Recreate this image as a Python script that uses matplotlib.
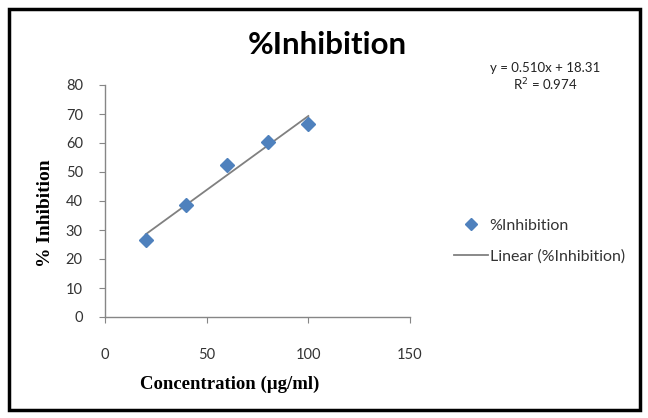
import numpy as np
import matplotlib
matplotlib.use("Agg")
from matplotlib import pyplot as plt
from matplotlib.patches import Rectangle
from matplotlib.lines import Line2D

# data
conc = [20, 40, 60, 80, 100]
inhibition = [26.5, 38.5, 52.5, 60.2, 66.5]
slope = 0.510
intercept = 18.31
xticks = [0, 50, 100, 150]
yticks = [0, 10, 20, 30, 40, 50, 60, 70, 80]

blue = "#4F81BD"
grey = "#868686"
tickfont = "Lato"

fig = plt.figure(figsize=(6.48, 4.18), dpi=100)
fig.patch.set_facecolor("white")

# outer frame
fig.add_artist(Rectangle((9/648, 1 - 410/418), (640-9)/648, (410-9)/418,
                         transform=fig.transFigure, fill=False,
                         edgecolor="black", lw=2.5))

ax = fig.add_axes([105/648, 1 - 317/418, 305/648, (317-85)/418])
ax.plot(conc, inhibition, "D", color=blue, markersize=7, zorder=3)
xs = np.array([conc[0], conc[-1]])
ax.plot(xs, slope*xs + intercept, "-", color="#808080", lw=1.3, zorder=2)

ax.set_xlim(0, 150)
ax.set_ylim(0, 80)
ax.set_xticks(xticks)
ax.set_yticks(yticks)
for s in ["top", "right"]:
    ax.spines[s].set_visible(False)
for s in ["left", "bottom"]:
    ax.spines[s].set_color(grey)
    ax.spines[s].set_linewidth(1)
ax.tick_params(axis="both", color=grey, length=4, labelsize=10.5,
               labelcolor="#333333")
ax.tick_params(axis="x", pad=18)
ax.tick_params(axis="y", pad=12)
for lbl in ax.get_xticklabels() + ax.get_yticklabels():
    lbl.set_fontfamily(tickfont)

ax.set_xlabel("Concentration (µg/ml)", fontfamily="Liberation Serif",
              fontweight="bold", fontsize=13.5)
ax.set_ylabel("% Inhibition", fontfamily="Liberation Serif",
              fontweight="bold", fontsize=14)
# x label top edge at y=376, y label right edge at x=54 (pixels)
ax.xaxis.set_label_coords((230-105)/305, -(376-317)/232)
ax.yaxis.set_label_coords(-(105-54)/305, (317-213)/232)

fig.text(327/648, 1 - 45/418, "%Inhibition", ha="center", va="center",
         fontfamily=tickfont, fontsize=22.5, fontweight="bold", color="black")
fig.text(545/648, 1 - 68/418, "y = 0.510x + 18.31", ha="center",
         va="center", fontfamily=tickfont, fontsize=9.5, color="#222222")
fig.text(545/648, 1 - 85/418, "R$^2$ = 0.974", ha="center",
         va="center", fontfamily=tickfont, fontsize=9.5, color="#222222")

handles = [Line2D([], [], ls="none", marker="D", color=blue, markersize=6),
           Line2D([], [], color="#808080", lw=1.3)]
fig.legend(handles, ["%Inhibition", "Linear (%Inhibition)"],
           loc="center left", bbox_to_anchor=(440/648, 1 - 241/418),
           frameon=False, prop={"family": tickfont, "size": 11.5},
           labelspacing=1.0, handlelength=2.1, handletextpad=0.1,
           labelcolor="#333333")

fig.savefig("out.png", dpi=100, facecolor="white")
